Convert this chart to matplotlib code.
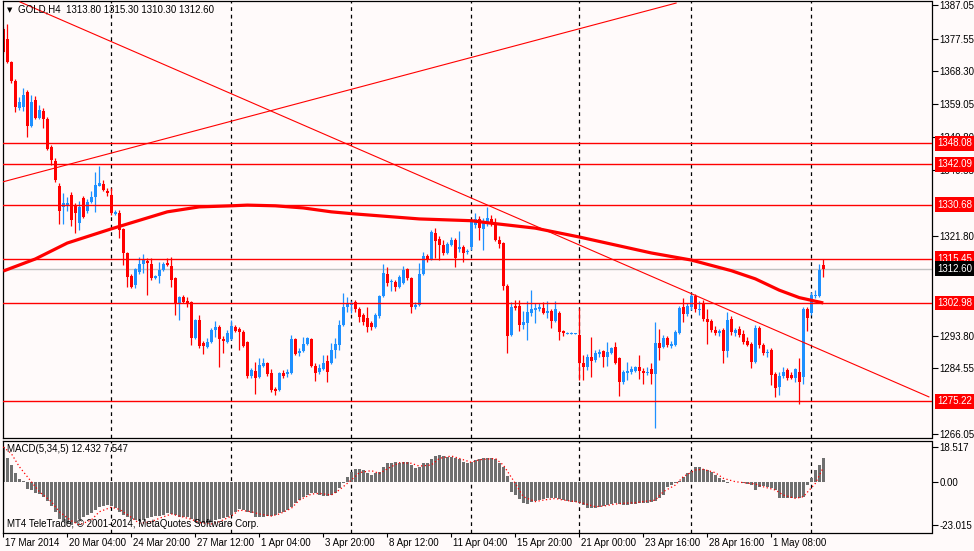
import matplotlib.pyplot as plt
from matplotlib.transforms import blended_transform_factory, ScaledTranslation

# GOLD H4 candles, 17 Mar - 2 May 2014
opens = [
    1380.3, 1377.5, 1371.0, 1365.6, 1358.0, 1358.3, 1362.5, 1352.9, 1360.3, 1355.2,
    1357.1, 1354.9, 1347.0, 1343.1, 1336.0, 1330.1, 1330.4, 1333.5, 1330.4, 1325.5,
    1332.6, 1329.0, 1331.5, 1332.9, 1336.0, 1336.5, 1334.6, 1333.5, 1328.1, 1328.4,
    1323.9, 1317.1, 1310.6, 1308.1, 1311.7, 1314.0, 1314.8, 1314.0, 1310.0, 1310.6,
    1312.3, 1314.3, 1313.4, 1310.0, 1302.7, 1304.7, 1303.6, 1303.3, 1293.1, 1298.2,
    1291.7, 1290.6, 1292.0, 1295.4, 1296.2, 1292.8, 1292.0, 1292.8, 1296.2, 1295.6,
    1294.8, 1292.0, 1282.4, 1283.8, 1282.1, 1285.2, 1286.1, 1283.2, 1278.7, 1278.4,
    1283.2, 1283.0, 1283.2, 1292.8, 1288.9, 1289.4, 1291.4, 1292.8, 1285.2, 1283.5,
    1284.4, 1286.6, 1286.1, 1289.7, 1291.1, 1296.8, 1301.9, 1302.4, 1303.3, 1301.3,
    1299.6, 1298.8, 1297.3, 1296.2, 1299.3, 1305.0, 1311.2, 1308.9, 1308.9, 1307.5,
    1308.6, 1312.6, 1310.0, 1301.9, 1302.4, 1311.2, 1316.2, 1315.4, 1322.7, 1321.0,
    1319.3, 1317.1, 1319.3, 1320.8, 1318.2, 1318.8, 1317.4, 1318.8, 1325.0, 1326.7,
    1323.9, 1325.5, 1326.7, 1325.5, 1320.8, 1319.9, 1307.8, 1293.9, 1302.1, 1302.1,
    1296.8, 1297.3, 1300.2, 1301.0, 1301.3, 1301.6, 1300.2, 1300.7, 1297.9, 1300.2,
    1295.1, 1294.2, 1294.2, 1294.2, 1293.9, 1286.1, 1284.9, 1287.7, 1286.9, 1288.6,
    1289.4, 1287.7, 1288.9, 1290.6, 1287.5, 1280.7, 1283.2, 1283.5, 1283.8, 1284.9,
    1283.8, 1283.2, 1284.4, 1283.0, 1291.7, 1290.6, 1293.1, 1290.8, 1291.1, 1294.5,
    1301.9, 1299.9, 1301.9, 1305.0, 1301.0, 1302.7, 1298.5, 1297.9, 1295.4, 1294.5,
    1295.4, 1289.4, 1298.5, 1294.5, 1295.6, 1294.2, 1292.3, 1291.4, 1286.3, 1295.9,
    1291.1, 1288.9, 1289.7, 1283.0, 1279.3, 1282.4, 1284.1, 1282.7, 1281.8, 1283.5,
    1282.1, 1301.3, 1300.2, 1305.0, 1305.0, 1313.8]
highs = [
    1380.8, 1381.7, 1371.3, 1366.2, 1361.1, 1363.6, 1363.1, 1361.7, 1361.4, 1358.8,
    1358.0, 1355.5, 1347.6, 1343.9, 1336.8, 1334.0, 1332.9, 1334.3, 1331.2, 1331.8,
    1333.2, 1332.3, 1334.6, 1339.9, 1341.6, 1337.7, 1335.4, 1335.4, 1329.2, 1329.2,
    1324.1, 1317.4, 1311.2, 1312.9, 1316.0, 1316.8, 1315.7, 1315.7, 1310.9, 1314.6,
    1314.6, 1315.7, 1316.0, 1310.3, 1305.0, 1305.2, 1304.7, 1303.6, 1298.5, 1299.6,
    1292.3, 1293.1, 1295.9, 1297.9, 1296.8, 1293.7, 1295.4, 1298.2, 1296.8, 1296.2,
    1295.4, 1292.3, 1284.6, 1286.3, 1287.5, 1287.5, 1286.3, 1284.4, 1279.3, 1283.5,
    1284.1, 1284.4, 1293.9, 1293.1, 1290.3, 1293.4, 1293.4, 1293.1, 1286.1, 1285.8,
    1288.3, 1288.3, 1291.7, 1293.1, 1298.2, 1305.8, 1304.7, 1303.6, 1303.8, 1301.9,
    1300.2, 1301.9, 1297.9, 1300.2, 1305.2, 1314.0, 1313.1, 1309.7, 1309.5, 1310.9,
    1313.4, 1312.9, 1310.3, 1303.3, 1314.3, 1317.4, 1316.8, 1323.6, 1324.1, 1321.9,
    1320.8, 1320.2, 1321.6, 1321.3, 1323.3, 1319.3, 1318.2, 1326.4, 1328.4, 1327.5,
    1327.0, 1330.1, 1327.8, 1327.0, 1321.9, 1320.2, 1308.3, 1303.3, 1303.8, 1303.8,
    1300.7, 1303.6, 1306.6, 1303.0, 1303.0, 1303.3, 1303.6, 1301.3, 1303.6, 1300.7,
    1295.4, 1294.8, 1294.8, 1294.5, 1301.6, 1288.3, 1288.6, 1293.4, 1289.7, 1290.0,
    1289.7, 1292.0, 1290.6, 1292.0, 1287.7, 1284.1, 1286.3, 1285.2, 1285.2, 1288.3,
    1284.6, 1284.9, 1286.1, 1297.6, 1295.6, 1293.9, 1293.7, 1292.3, 1295.4, 1302.1,
    1304.4, 1303.0, 1305.5, 1305.5, 1303.6, 1303.8, 1301.3, 1298.5, 1296.5, 1295.6,
    1295.9, 1300.5, 1299.3, 1295.9, 1296.5, 1295.4, 1293.4, 1292.0, 1296.8, 1296.5,
    1291.7, 1290.0, 1290.3, 1283.5, 1283.5, 1284.9, 1284.6, 1283.5, 1284.6, 1287.5,
    1301.9, 1301.9, 1306.1, 1306.6, 1314.0, 1315.3]
lows = [
    1373.5, 1370.7, 1365.0, 1356.9, 1357.4, 1357.1, 1349.8, 1352.6, 1354.9, 1354.9,
    1352.4, 1346.2, 1341.9, 1337.1, 1325.3, 1325.3, 1329.0, 1324.7, 1322.7, 1323.6,
    1327.0, 1328.4, 1331.2, 1328.7, 1336.0, 1334.6, 1333.2, 1327.8, 1327.8, 1321.3,
    1313.7, 1307.5, 1307.2, 1307.2, 1311.2, 1311.4, 1305.2, 1309.5, 1309.7, 1308.6,
    1312.0, 1313.4, 1307.5, 1299.6, 1298.2, 1303.0, 1301.9, 1291.1, 1292.8, 1290.3,
    1288.6, 1290.3, 1291.7, 1293.4, 1284.9, 1288.9, 1291.7, 1292.5, 1294.8, 1289.7,
    1290.6, 1281.8, 1281.8, 1277.3, 1281.8, 1284.9, 1282.4, 1277.9, 1277.0, 1278.2,
    1281.8, 1282.1, 1283.0, 1288.3, 1288.0, 1289.2, 1291.1, 1284.9, 1281.0, 1283.0,
    1284.1, 1280.7, 1285.8, 1287.5, 1289.7, 1296.5, 1300.5, 1300.2, 1300.5, 1297.6,
    1296.8, 1294.8, 1295.4, 1295.9, 1298.8, 1304.7, 1307.8, 1306.4, 1306.4, 1307.2,
    1308.3, 1309.5, 1300.2, 1301.3, 1302.1, 1310.9, 1314.6, 1315.1, 1315.7, 1315.1,
    1316.5, 1316.8, 1319.1, 1313.1, 1317.4, 1314.6, 1316.8, 1317.9, 1324.1, 1320.8,
    1317.9, 1324.7, 1324.7, 1320.5, 1318.5, 1306.6, 1288.9, 1293.7, 1301.0, 1295.1,
    1295.6, 1292.5, 1299.3, 1297.3, 1300.7, 1299.9, 1298.8, 1295.9, 1297.6, 1292.5,
    1293.7, 1294.2, 1294.2, 1294.2, 1281.3, 1281.3, 1284.1, 1282.1, 1286.3, 1287.7,
    1284.9, 1285.2, 1288.6, 1285.8, 1276.8, 1280.1, 1281.3, 1283.0, 1283.5, 1281.6,
    1280.1, 1282.7, 1280.1, 1267.7, 1286.9, 1290.3, 1290.6, 1290.3, 1290.8, 1294.2,
    1297.6, 1299.3, 1301.0, 1300.5, 1299.6, 1297.9, 1291.4, 1294.8, 1293.9, 1293.7,
    1286.1, 1287.7, 1293.9, 1293.7, 1293.4, 1291.4, 1290.8, 1284.6, 1286.1, 1290.3,
    1288.3, 1287.7, 1279.9, 1276.5, 1277.0, 1281.8, 1281.3, 1281.6, 1280.7, 1274.5,
    1280.1, 1295.1, 1299.6, 1304.4, 1304.7, 1310.3]
closes = [
    1373.8, 1371.0, 1365.6, 1358.3, 1359.7, 1361.7, 1352.9, 1359.7, 1355.2, 1357.4,
    1354.9, 1346.4, 1343.3, 1337.7, 1329.0, 1331.2, 1331.2, 1326.4, 1328.4, 1330.1,
    1327.3, 1331.5, 1332.9, 1336.3, 1336.8, 1334.9, 1334.0, 1328.4, 1328.7, 1323.6,
    1317.1, 1310.3, 1307.5, 1312.6, 1314.0, 1315.1, 1314.3, 1310.0, 1310.6, 1312.3,
    1314.0, 1313.7, 1309.5, 1302.7, 1304.7, 1303.3, 1303.0, 1293.1, 1298.2, 1290.8,
    1290.8, 1292.0, 1295.4, 1296.2, 1292.8, 1292.3, 1294.5, 1296.5, 1295.1, 1294.8,
    1290.8, 1282.4, 1284.1, 1281.8, 1285.5, 1286.1, 1283.0, 1278.4, 1278.2, 1283.2,
    1282.4, 1283.5, 1292.8, 1288.6, 1289.4, 1291.4, 1293.1, 1285.2, 1283.2, 1284.6,
    1286.1, 1283.5, 1289.7, 1291.4, 1296.8, 1301.9, 1303.0, 1303.0, 1301.3, 1299.0,
    1297.6, 1296.2, 1296.2, 1299.6, 1305.0, 1311.4, 1308.6, 1309.2, 1307.5, 1310.3,
    1312.3, 1310.0, 1301.9, 1302.4, 1311.2, 1316.2, 1315.4, 1323.0, 1320.5, 1319.3,
    1317.1, 1319.6, 1320.8, 1315.7, 1318.8, 1317.1, 1317.7, 1325.8, 1326.7, 1324.1,
    1325.8, 1327.0, 1325.5, 1320.8, 1319.6, 1307.8, 1293.7, 1301.9, 1301.6, 1296.8,
    1297.6, 1300.5, 1301.3, 1301.6, 1301.9, 1300.2, 1300.7, 1297.9, 1301.3, 1294.8,
    1294.5, 1294.5, 1294.5, 1294.5, 1286.1, 1284.9, 1287.7, 1286.6, 1288.9, 1289.2,
    1287.7, 1289.2, 1290.3, 1286.1, 1280.7, 1283.5, 1283.8, 1284.4, 1284.9, 1283.8,
    1283.2, 1283.5, 1283.0, 1291.7, 1290.3, 1293.1, 1291.1, 1291.4, 1294.8, 1301.6,
    1299.9, 1302.1, 1305.0, 1301.3, 1301.3, 1298.5, 1297.6, 1295.4, 1294.5, 1295.1,
    1289.4, 1298.2, 1294.8, 1295.4, 1293.9, 1292.0, 1291.1, 1286.3, 1295.9, 1291.1,
    1288.9, 1289.2, 1282.7, 1279.0, 1282.4, 1283.5, 1281.8, 1281.8, 1284.4, 1280.7,
    1301.3, 1298.8, 1305.2, 1305.2, 1312.3, 1312.6]

# moving average read at some bars
ma_bars = [0, 8, 16, 27, 41, 49, 57, 61, 68, 75, 82, 88, 104, 117, 122, 133,
           144, 162, 172, 182, 188, 194, 199, 205]
ma_vals = [1312.0, 1315.4, 1319.9, 1323.9, 1328.7, 1330.1, 1330.4, 1330.6, 1330.4,
           1329.8, 1328.7, 1328.1, 1326.7, 1326.2, 1325.5, 1324.1, 1321.6, 1317.1,
           1315.1, 1312.1, 1309.8, 1306.6, 1304.5, 1303.0]

# MACD(5,34,5)
macd_hist = [
    18.5, 12.6, 8.9, 4.6, 1.4, 0.5, -3.9, -4.2, -5.8, -6.3,
    -8.0, -10.1, -12.9, -16.0, -20.0, -20.8, -21.8, -23.0, -22.2, -20.0,
    -19.0, -17.7, -16.5, -15.1, -13.6, -12.9, -12.4, -12.9, -14.2, -16.0,
    -17.7, -19.0, -20.0, -20.4, -20.8, -20.4, -19.5, -19.0, -18.3, -18.3,
    -17.7, -16.9, -17.2, -17.7, -18.6, -19.0, -19.0, -20.0, -21.3, -21.8,
    -22.2, -21.8, -21.4, -20.4, -20.0, -19.5, -19.0, -17.7, -16.0, -14.7,
    -15.1, -16.0, -16.9, -19.0, -19.0, -18.6, -18.3, -18.3, -17.7, -16.9,
    -16.0, -15.1, -13.3, -11.5, -9.8, -8.0, -7.1, -6.2, -6.2, -7.1,
    -7.6, -7.6, -7.1, -5.8, -3.5, -0.9, 2.7, 5.3, 6.6, 6.6,
    6.2, 4.8, 3.5, 4.6, 5.3, 8.0, 9.8, 10.1, 10.6, 10.1,
    10.6, 10.6, 8.9, 7.1, 8.0, 9.8, 10.1, 12.0, 13.7, 14.2,
    13.7, 13.3, 13.3, 12.6, 12.0, 10.6, 9.8, 10.6, 11.5, 12.0,
    12.6, 12.6, 12.4, 11.9, 9.8, 8.0, 3.0, -5.3, -7.1, -9.4,
    -11.2, -11.9, -10.6, -10.1, -9.8, -9.4, -8.9, -8.9, -8.9, -9.4,
    -9.8, -10.1, -10.6, -10.6, -11.2, -12.4, -14.2, -14.2, -14.2, -13.7,
    -13.0, -12.4, -11.9, -11.5, -11.9, -12.4, -12.4, -11.9, -11.9, -11.5,
    -11.5, -11.2, -10.6, -10.1, -8.9, -7.1, -3.0, -1.8, -0.9, 0.2,
    2.3, 4.4, 5.9, 7.6, 7.6, 6.6, 6.2, 5.3, 3.5, 1.8,
    0.9, -0.9, -0.2, 0.1, -0.1, -0.5, -1.2, -1.8, -4.4, -2.7,
    -2.3, -2.7, -3.5, -4.4, -8.9, -8.9, -8.9, -8.9, -8.9, -8.9,
    -8.0, -1.8, 1.8, 6.2, 9.0, 12.432]
sig_bars = [0, 2, 4, 7, 9, 12, 14, 17, 19, 22, 24, 27, 29, 32, 34, 37, 39, 42, 44,
            47, 49, 52, 54, 57, 59, 62, 64, 67, 69, 72, 74, 77, 79, 82, 84, 87, 89,
            92, 94, 97, 99, 102, 104, 107, 109, 112, 114, 117, 119, 123, 125, 128,
            130, 133, 135, 138, 140, 143, 145, 148, 150, 153, 155, 158, 160, 163,
            165, 168, 170, 173, 175, 178, 180, 183, 185, 188, 190, 193, 195, 198,
            200, 203, 205]
sig_vals = [18.5, 15.0, 8.0, 0.0, -5.3, -10.6, -16.0, -20.8, -23.0, -20.4, -16.0,
            -13.6, -14.7, -19.0, -22.2, -21.3, -19.5, -17.2, -18.3, -20.0, -21.8,
            -22.5, -21.3, -18.3, -15.1, -16.0, -17.2, -18.3, -17.2, -14.2, -9.8,
            -6.6, -6.2, -7.1, -4.4, 0.9, 4.8, 5.9, 4.4, 8.0, 10.1, 9.8, 8.3, 8.9,
            12.4, 13.7, 12.4, 10.3, 11.7, 12.4, 8.9, -0.9, -8.0, -10.6, -9.8, -8.9,
            -9.8, -10.6, -11.5, -13.3, -13.0, -11.9, -11.5, -11.2, -10.6, -9.8,
            -5.3, -1.8, 2.7, 6.2, 6.6, 4.8, 1.8, 0.0, -0.5, -1.2, -2.7, -4.4, -7.1,
            -8.9, -8.0, -0.9, 7.547]

levels = [1348.08, 1342.09, 1330.68, 1315.45, 1302.98, 1275.22]
bid = 1312.60
# trend lines: (bar, price) end points
trend_down = [(4.2, 1387.9), (231.4, 1276.5)]
trend_up = [(-0.3, 1337.1), (168.2, 1387.6)]
separators = [27, 57, 87, 117, 144, 172, 202]

price_ticks = [1387.05, 1377.55, 1368.30, 1359.05, 1349.80, 1340.55, 1321.80,
               1293.80, 1284.55, 1266.05]
date_bars = [0, 16, 32, 48, 64, 80, 96, 112, 128, 144, 160, 176, 192]
date_labels = ['17 Mar 2014', '20 Mar 04:00', '24 Mar 20:00', '27 Mar 12:00',
               '1 Apr 04:00', '3 Apr 20:00', '8 Apr 12:00', '11 Apr 04:00',
               '15 Apr 20:00', '21 Apr 00:00', '23 Apr 16:00', '28 Apr 16:00',
               '1 May 08:00']

plt.rcParams['font.family'] = ['Liberation Sans', 'DejaVu Sans']
plt.rcParams['font.size'] = 7
BG = '#FFFAFA'
UP = '#1E90FF'
DOWN = '#FF0000'

W, H = 974, 551
fig = plt.figure(figsize=(W / 100, H / 100), dpi=100, facecolor=BG)


def px_box(l, t, r, b):
    return [l / W, 1 - b / H, (r - l) / W, (b - t) / H]


ax = fig.add_axes(px_box(2.5, 0.5, 931.5, 438), facecolor=BG)
am = fig.add_axes(px_box(2.5, 440.5, 931.5, 533), facecolor=BG, sharex=ax)

# candles
n = len(closes)
cols = [UP if c >= o else DOWN for o, c in zip(opens, closes)]
ax.vlines(range(n), lows, highs, colors=cols, lw=0.9, zorder=2)
bottoms = [min(o, c) for o, c in zip(opens, closes)]
heights = [max(abs(c - o), 0.3) for o, c in zip(opens, closes)]
ax.bar(range(n), heights, bottom=bottoms, width=0.75, color=cols, lw=0, zorder=2)

for lv in levels:
    ax.axhline(lv, color='red', lw=1.0, zorder=3)
ax.axhline(bid, color='#C0C0C0', lw=1.0, zorder=1)
for tl in (trend_down, trend_up):
    ax.plot([p[0] for p in tl], [p[1] for p in tl], color='red', lw=0.8, zorder=3)
ax.plot(ma_bars, ma_vals, color='red', lw=2.3, zorder=3, solid_capstyle='butt')

for a in (ax, am):
    for b in separators:
        a.axvline(b, color='black', lw=0.9, ls=(0, (3, 3)), zorder=1)

# MACD window
am.bar(range(n), macd_hist, width=0.75, color='#6F6F6F', lw=0, zorder=2)
am.plot(sig_bars, sig_vals, color='red', lw=0.9, ls=(0, (1, 2)), zorder=3)

ax.set_xlim(-0.2, 232.05)
ax.set_ylim(1264.90, 1388.32)
am.set_ylim(-27.32, 21.94)

for a in (ax, am):
    for s in a.spines.values():
        s.set_color('black')
        s.set_linewidth(0.9)
    a.yaxis.tick_right()
    a.tick_params(axis='y', length=4, width=0.8, pad=1.5, labelsize=7)

ax.set_yticks(price_ticks)
ax.set_yticklabels(['%.2f' % v for v in price_ticks])
ax.tick_params(axis='x', bottom=False, labelbottom=False)

am.set_yticks([18.517, 0.0, -23.015])
am.set_yticklabels(['18.517', '0.00', '-23.015'])
am.set_xticks(date_bars)
am.set_xticklabels(date_labels)
am.tick_params(axis='x', length=3, width=0.8, pad=0.5, labelsize=7)
shift = ScaledTranslation(2 / 100, 0, fig.dpi_scale_trans)
for lab in am.get_xticklabels():
    lab.set_ha('left')
    lab.set_transform(lab.get_transform() + shift)

# level boxes on the price scale
tr = blended_transform_factory(ax.transAxes, ax.transData)
xb = 1 + (937 - 931.5) / 929
for lv in levels:
    ax.text(xb, lv, '%.2f' % lv, transform=tr, color='white', va='center', ha='left',
            fontsize=7, clip_on=False, zorder=5,
            bbox=dict(boxstyle='square,pad=0.25', fc='red', ec='none'))
ax.text(xb, bid, '%.2f' % bid, transform=tr, color='white', va='center', ha='left',
        fontsize=7, clip_on=False, zorder=5,
        bbox=dict(boxstyle='square,pad=0.25', fc='black', ec='none'))

fig.text(7 / W, 1 - 10 / H, '\u25BC', fontsize=5, family='DejaVu Sans', va='center')
fig.text(18 / W, 1 - 10 / H, 'GOLD,H4  1313.80 1315.30 1310.30 1312.60', va='center')
fig.text(7 / W, 1 - 449 / H, 'MACD(5,34,5) 12.432 7.547', va='center')
fig.text(7 / W, 1 - 524 / H, 'MT4 TeleTrade, \u00A9 2001-2014, MetaQuotes Software Corp.',
         va='center')

fig.savefig('out.png', dpi=100, facecolor=BG)
